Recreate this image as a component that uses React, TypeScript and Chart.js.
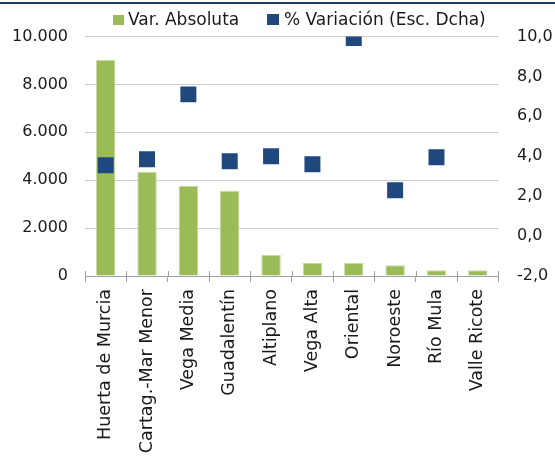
import React, { useEffect, useRef } from "react";
import { Chart, registerables } from "chart.js";

Chart.register(...registerables);

const categories = [
  "Huerta de Murcia",
  "Cartag.-Mar Menor",
  "Vega Media",
  "Guadalentín",
  "Altiplano",
  "Vega Alta",
  "Oriental",
  "Noroeste",
  "Río Mula",
  "Valle Ricote",
];
const varAbsoluta = [9030, 4350, 3765, 3555, 875, 542, 542, 444, 236, 236];
const pctVariacion: (number | null)[] = [3.55, 3.85, 7.1, 3.75, 4.0, 3.6, 9.92, 2.3, 3.95, null];
const leftTicks = [0, 2000, 4000, 6000, 8000, 10000];
const rightTicks = [-2, 0, 2, 4, 6, 8, 10];
const seriesNames = ["Var. Absoluta", "% Variación (Esc. Dcha)"];
const seriesColors = ["#9BBB59", "#1F497D"];

const FONT = "'DejaVu Sans', Verdana, sans-serif";
const AXIS_COLOR = "#A0A0A0";

function fmtThousands(v: number): string {
  const s = Math.round(v).toString();
  return s.replace(/\B(?=(\d{3})+(?!\d))/g, ".");
}

// Draws the part of the category tick marks that crosses above the x axis line
const crossTicks = {
  id: "crossTicks",
  afterDatasetsDraw(chart: any) {
    const xs = chart.scales.x;
    const { ctx, chartArea } = chart;
    const n = chart.data.labels.length;
    const half = (xs.getPixelForValue(1) - xs.getPixelForValue(0)) / 2;
    ctx.save();
    ctx.strokeStyle = AXIS_COLOR;
    ctx.lineWidth = 1;
    ctx.beginPath();
    for (let i = 0; i <= n; i++) {
      const x = Math.round(xs.getPixelForValue(i) - half) + 0.5;
      ctx.moveTo(x, chartArea.bottom - 5);
      ctx.lineTo(x, chartArea.bottom);
    }
    ctx.stroke();
    ctx.restore();
  },
};

export default function App() {
  const ref = useRef<HTMLCanvasElement | null>(null);

  useEffect(() => {
    if (!ref.current) return;
    const chart = new Chart(ref.current, {
      data: {
        labels: categories,
        datasets: [
          {
            type: "bar",
            label: seriesNames[0],
            data: varAbsoluta,
            backgroundColor: seriesColors[0],
            borderColor: "#C6DA9E",
            borderWidth: 1,
            barPercentage: 0.47,
            categoryPercentage: 1,
            yAxisID: "y",
            order: 2,
          },
          {
            type: "line",
            label: seriesNames[1],
            data: pctVariacion,
            showLine: false,
            pointStyle: "rect",
            pointRadius: 11.3,
            pointHoverRadius: 11.3,
            pointBackgroundColor: seriesColors[1],
            pointBorderColor: seriesColors[1],
            pointBorderWidth: 0,
            backgroundColor: seriesColors[1],
            borderColor: seriesColors[1],
            yAxisID: "y1",
            order: 1,
          },
        ],
      },
      options: {
        responsive: false,
        animation: false,
        layout: { padding: { top: 36.5, left: 0, right: 0, bottom: 0 } },
        plugins: {
          tooltip: { enabled: false },
          legend: { display: false },
        },
        scales: {
          x: {
            offset: true,
            grid: {
              display: true,
              offset: true,
              drawOnChartArea: false,
              drawTicks: true,
              tickLength: 6,
              color: AXIS_COLOR,
            },
            border: { display: true, color: AXIS_COLOR, width: 1 },
            ticks: {
              font: { family: FONT, size: 17.5 },
              color: "#1a1a1a",
              maxRotation: 90,
              minRotation: 90,
              autoSkip: false,
              padding: 7,
            },
            afterFit: (s: any) => {
              s.height = 182;
            },
          },
          y: {
            position: "left",
            min: 0,
            max: 10000,
            afterBuildTicks: (s: any) => {
              s.ticks = leftTicks.map((v) => ({ value: v }));
            },
            grid: { color: "#CCCCCC", drawTicks: false, lineWidth: 1 },
            border: { display: false },
            ticks: {
              font: { family: FONT, size: 16 },
              color: "#1a1a1a",
              padding: 17,
              callback: (v: any) => fmtThousands(Number(v)),
            },
            afterFit: (s: any) => {
              s.width = 85;
            },
          },
          y1: {
            position: "right",
            min: -2,
            max: 10,
            afterBuildTicks: (s: any) => {
              s.ticks = rightTicks.map((v) => ({ value: v }));
            },
            grid: { display: false, drawOnChartArea: false, drawTicks: false },
            border: { display: false },
            ticks: {
              font: { family: FONT, size: 16 },
              color: "#1a1a1a",
              padding: 18.5,
              callback: (v: any) => Number(v).toFixed(1).replace(".", ","),
            },
            afterFit: (s: any) => {
              s.width = 56.5;
            },
          },
        },
      },
      plugins: [crossTicks],
    } as any);
    return () => chart.destroy();
  }, []);

  const legendText: React.CSSProperties = {
    position: "absolute",
    top: 8.5,
    fontFamily: FONT,
    fontSize: 17,
    color: "#1a1a1a",
    whiteSpace: "nowrap",
    lineHeight: "normal",
  };

  return (
    <div
      style={{
        position: "absolute",
        left: 0,
        top: 0,
        width: 555,
        height: 458,
        background: "#fff",
        overflow: "hidden",
      }}
    >
      <div
        style={{
          position: "absolute",
          left: 0,
          top: 2,
          width: 555,
          height: 2,
          background: "#1F3864",
        }}
      />
      <canvas
        ref={ref}
        width={555}
        height={458}
        style={{ position: "absolute", left: 0, top: 0, width: 555, height: 458 }}
      />
      <div style={{ position: "absolute", left: 113, top: 15, width: 11, height: 10, background: seriesColors[0] }} />
      <div style={{ ...legendText, left: 128 }}>{seriesNames[0]}</div>
      <div style={{ position: "absolute", left: 267, top: 14, width: 12, height: 11, background: seriesColors[1] }} />
      <div style={{ ...legendText, left: 284 }}>{seriesNames[1]}</div>
    </div>
  );
}
